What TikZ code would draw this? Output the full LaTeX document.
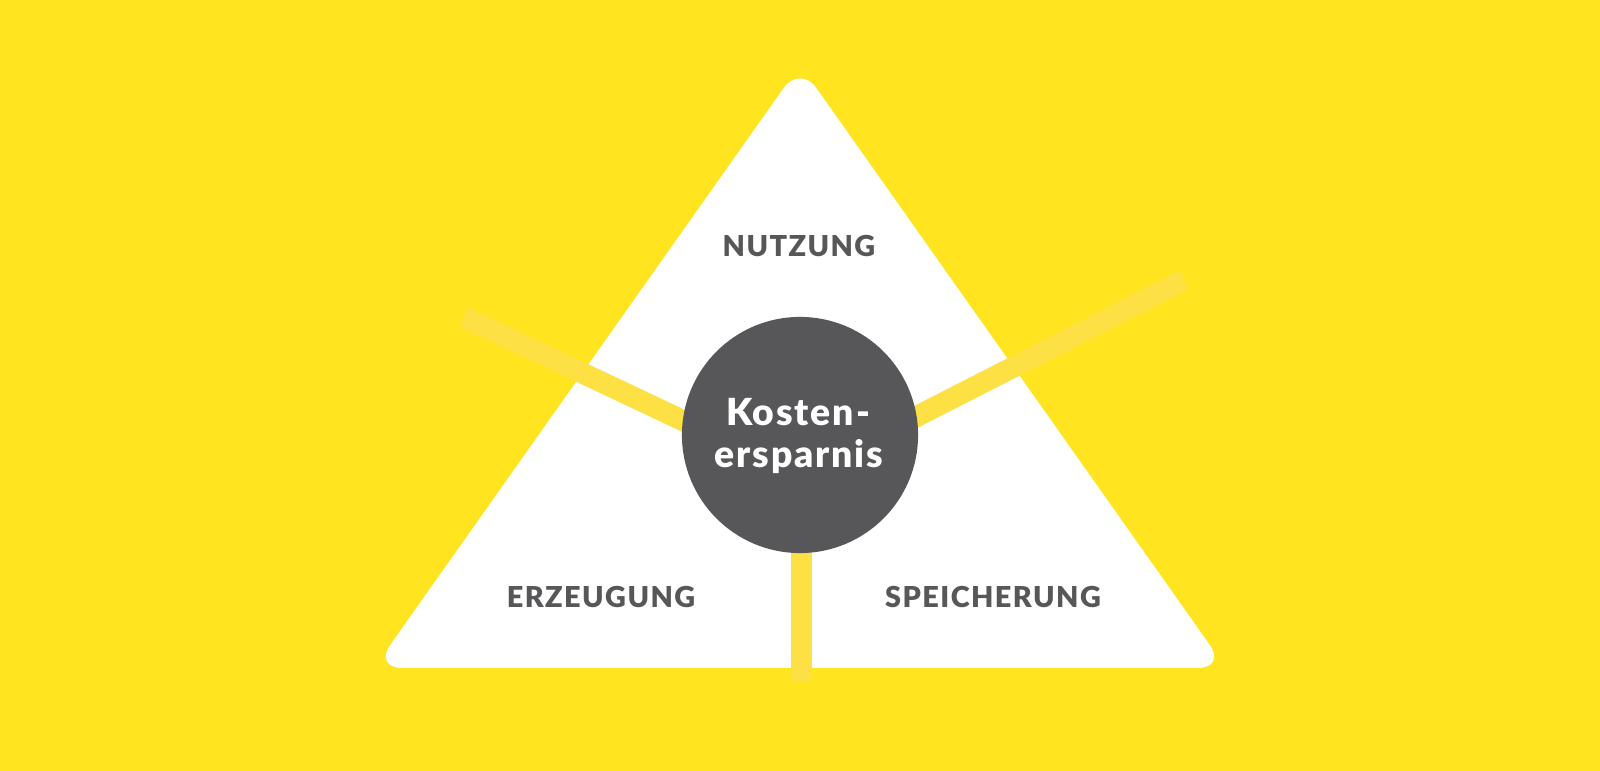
\documentclass[tikz,border=0pt]{standalone}
\usepackage{fontspec}
\setmainfont{Lato}
\newfontfamily\labelfont{Lato Black}[LetterSpace=5]
\newfontfamily\corefont{Lato Black}[LetterSpace=5]
\usetikzlibrary{positioning}
\definecolor{bgyellow}{HTML}{FFE41F}
\definecolor{baryellow}{HTML}{FDE044}
\definecolor{darkgray}{HTML}{575759}

\begin{document}
\begin{tikzpicture}[
  x=0.01cm, y=-0.01cm,
  field/.style={fill=white, rounded corners=0.28cm},
  spoke/.style={draw=baryellow, line width=0.21cm},
  hub/.style={circle, fill=darkgray, minimum size=2.36cm, inner sep=0pt},
  corner/.style={font=\labelfont\fontsize{8.2}{9}\selectfont, text=darkgray, anchor=base},
  core/.style={font=\corefont\fontsize{10.6}{12}\selectfont, text=white, anchor=base}
]

% background
\fill[bgyellow] (0,0) rectangle (1600,771);
\useasboundingbox (0,0) rectangle (1600,771);

% triangle corners
\coordinate (Top) at (800,65);
\coordinate (Left) at (374,668);
\coordinate (Right) at (1226,668);
\coordinate (Base) at (800,668);
\fill[field] (Base) -- (Right) -- (Top) -- (Left) -- cycle;

% spokes
\coordinate (Center) at (800,476);
\coordinate (EndLeft) at (464,317);
\coordinate (EndRight) at (1184,280);
\coordinate (EndDown) at (801,682);
\draw[spoke] (Center) -- (EndLeft);
\draw[spoke] (Center) -- (EndRight);
\draw[spoke] (801,476) -- (EndDown);

% centre circle
\node[hub] (Savings) at (800,435) {};
\node[core] (Line1) at (798,426) {Kosten-};
\node[core] (Line2) at (799,468) {ersparnis};

% labels
\node[corner] (Use) at (799,257) {NUTZUNG};
\node[corner] (Gen) at (601,608) {ERZEUGUNG};
\node[corner] (Store) at (993,608) {SPEICHERUNG};

\end{tikzpicture}
\end{document}
